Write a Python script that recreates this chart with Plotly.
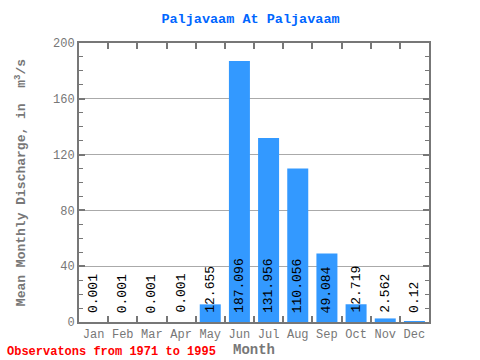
import plotly.graph_objects as go

months = ["Jan", "Feb", "Mar", "Apr", "May", "Jun", "Jul", "Aug", "Sep", "Oct", "Nov", "Dec"]
values = [0.001, 0.001, 0.001, 0.001, 12.655, 187.096, 131.956, 110.056, 49.084, 12.719, 2.562, 0.12]
labels = ["0.001", "0.001", "0.001", "0.001", "12.655", "187.096", "131.956", "110.056", "49.084", "12.719", "2.562", "0.12"]

FONT = "Liberation Mono, DejaVu Sans Mono, monospace"

fig = go.Figure()
fig.add_trace(go.Bar(x=months, y=values, marker_color="#3399ff", marker_line_width=0, width=0.72))

for m, lab in zip(months, labels):
    fig.add_annotation(x=m, y=0, text=lab, textangle=-90, showarrow=False,
                       xanchor="center", yanchor="bottom", yshift=7,
                       font=dict(family=FONT, size=13, color="black"))

fig.update_layout(
    width=480, height=360,
    margin=dict(l=79, r=51, t=43, b=38, autoexpand=False),
    paper_bgcolor="white", plot_bgcolor="white",
    showlegend=False,
    title=dict(text="<b>Paljavaam At Paljavaam</b>", x=0.49, xref="paper", xanchor="center",
               y=1 - 18 / 360, yref="container", yanchor="middle",
               font=dict(family=FONT, size=13.5, color="#0066ff")),
    xaxis=dict(title=dict(text="<b>Month</b>", font=dict(family=FONT, size=14, color="#777777"), standoff=0),
               tickfont=dict(family=FONT, size=12, color="#777777"), tickangle=0, automargin=False,
               showline=True, linecolor="#777777", linewidth=2, mirror="ticks",
               ticks="inside", tickson="boundaries", ticklen=6, tickcolor="#777777", tickwidth=2,
               showgrid=False),
    yaxis=dict(title=dict(text="<b>Mean Monthly Discharge, in  m<sup>3</sup>/s</b>", font=dict(family=FONT, size=13, color="#777777"), standoff=24),
               tickfont=dict(family=FONT, size=12, color="#777777"), automargin=False,
               range=[0, 200], tickvals=[0, 40, 80, 120, 160, 200],
               showline=True, linecolor="#777777", linewidth=2, mirror="ticks",
               ticks="inside", ticklen=6, tickcolor="#777777", tickwidth=2,
               minor=dict(dtick=10, ticks="inside", ticklen=4, tickcolor="#777777", tickwidth=1),
               showgrid=True, gridcolor="#aaaaaa", gridwidth=1, zeroline=False),
)

fig.add_annotation(xref="paper", yref="paper", x=(5 - 79) / 350, y=-30 / 279, xanchor="left", yanchor="middle",
                   text="<b>Observatons from 1971 to 1995</b>", showarrow=False,
                   font=dict(family=FONT, size=12, color="red"))

fig.write_html("out.html", config={"displayModeBar": False},
               post_script="document.body.style.margin='0px';")
